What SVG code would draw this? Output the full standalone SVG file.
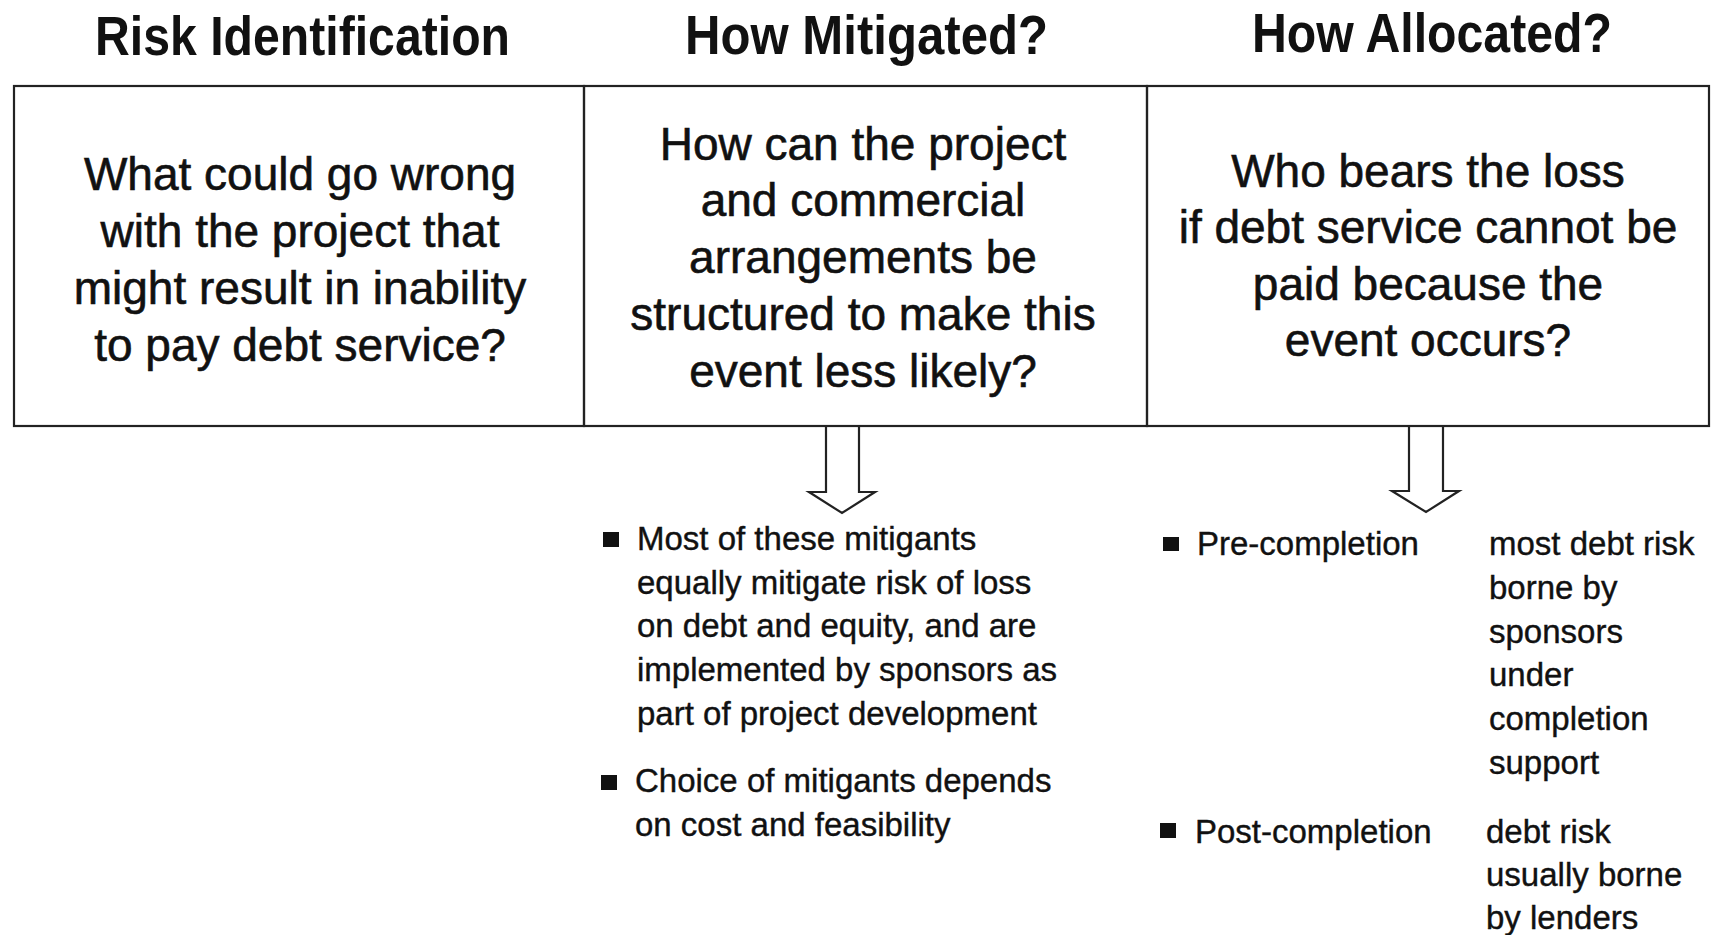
<svg xmlns="http://www.w3.org/2000/svg" width="1714" height="935" viewBox="0 0 1714 935">
<style>
.hd{font-family:"Liberation Sans",Arial,sans-serif;font-weight:bold;font-size:56px;fill:#111;}
.bx{font-family:"Liberation Sans",Arial,sans-serif;font-size:46px;fill:#111;stroke:#111;stroke-width:0.6px;text-anchor:middle;}
.bt{font-family:"Liberation Sans",Arial,sans-serif;font-size:33px;fill:#111;stroke:#111;stroke-width:0.4px;}
.ln{fill:none;stroke:#222;stroke-width:2.2;}
.bul{fill:#111;}
</style>
<rect width="1714" height="935" fill="#ffffff"/>
<g id="headers">
<text class="hd" x="95" y="55" textLength="415" lengthAdjust="spacingAndGlyphs">Risk Identification</text>
<text class="hd" x="685" y="54" textLength="363" lengthAdjust="spacingAndGlyphs">How Mitigated?</text>
<text class="hd" x="1252" y="52" textLength="360" lengthAdjust="spacingAndGlyphs">How Allocated?</text>
</g>
<g id="box-identification">
<rect class="ln" x="14" y="86" width="570" height="340"/>
<text class="bx" x="300" y="190">What could go wrong</text>
<text class="bx" x="300" y="247">with the project that</text>
<text class="bx" x="300" y="304">might result in inability</text>
<text class="bx" x="300" y="361">to pay debt service?</text>
</g>
<g id="box-mitigated">
<rect class="ln" x="584" y="86" width="563" height="340"/>
<text class="bx" x="863" y="160">How can the project</text>
<text class="bx" x="863" y="216">and commercial</text>
<text class="bx" x="863" y="273">arrangements be</text>
<text class="bx" x="863" y="330">structured to make this</text>
<text class="bx" x="863" y="387">event less likely?</text>
</g>
<g id="box-allocated">
<rect class="ln" x="1147" y="86" width="562" height="340"/>
<text class="bx" x="1428" y="187">Who bears the loss</text>
<text class="bx" x="1428" y="243">if debt service cannot be</text>
<text class="bx" x="1428" y="300">paid because the</text>
<text class="bx" x="1428" y="356">event occurs?</text>
</g>
<g id="connectors">
<polygon class="ln" fill="#ffffff" points="826,426 826,492 809,492 842,513 875,492 859,492 859,426"/>
<polygon class="ln" fill="#ffffff" points="1409,426 1409,491 1392,491 1426,512 1459,491 1443,491 1443,426"/>
</g>
<g id="mitigation-notes">
<rect class="bul" x="603" y="532" width="16" height="15"/>
<text class="bt" x="637" y="550">Most of these mitigants</text>
<text class="bt" x="637" y="594">equally mitigate risk of loss</text>
<text class="bt" x="637" y="637">on debt and equity, and are</text>
<text class="bt" x="637" y="681">implemented by sponsors as</text>
<text class="bt" x="637" y="725">part of project development</text>
<rect class="bul" x="601" y="775" width="16" height="15"/>
<text class="bt" x="635" y="792">Choice of mitigants depends</text>
<text class="bt" x="635" y="836">on cost and feasibility</text>
</g>
<g id="allocation-notes">
<rect class="bul" x="1163" y="537" width="16" height="14"/>
<text class="bt" x="1197" y="555">Pre-completion</text>
<text class="bt" x="1489" y="555">most debt risk</text>
<text class="bt" x="1489" y="599">borne by</text>
<text class="bt" x="1489" y="643">sponsors</text>
<text class="bt" x="1489" y="686">under</text>
<text class="bt" x="1489" y="730">completion</text>
<text class="bt" x="1489" y="774">support</text>
<rect class="bul" x="1160" y="823" width="16" height="15"/>
<text class="bt" x="1195" y="843">Post-completion</text>
<text class="bt" x="1486" y="843">debt risk</text>
<text class="bt" x="1486" y="886">usually borne</text>
<text class="bt" x="1486" y="929">by lenders</text>
</g>
</svg>
